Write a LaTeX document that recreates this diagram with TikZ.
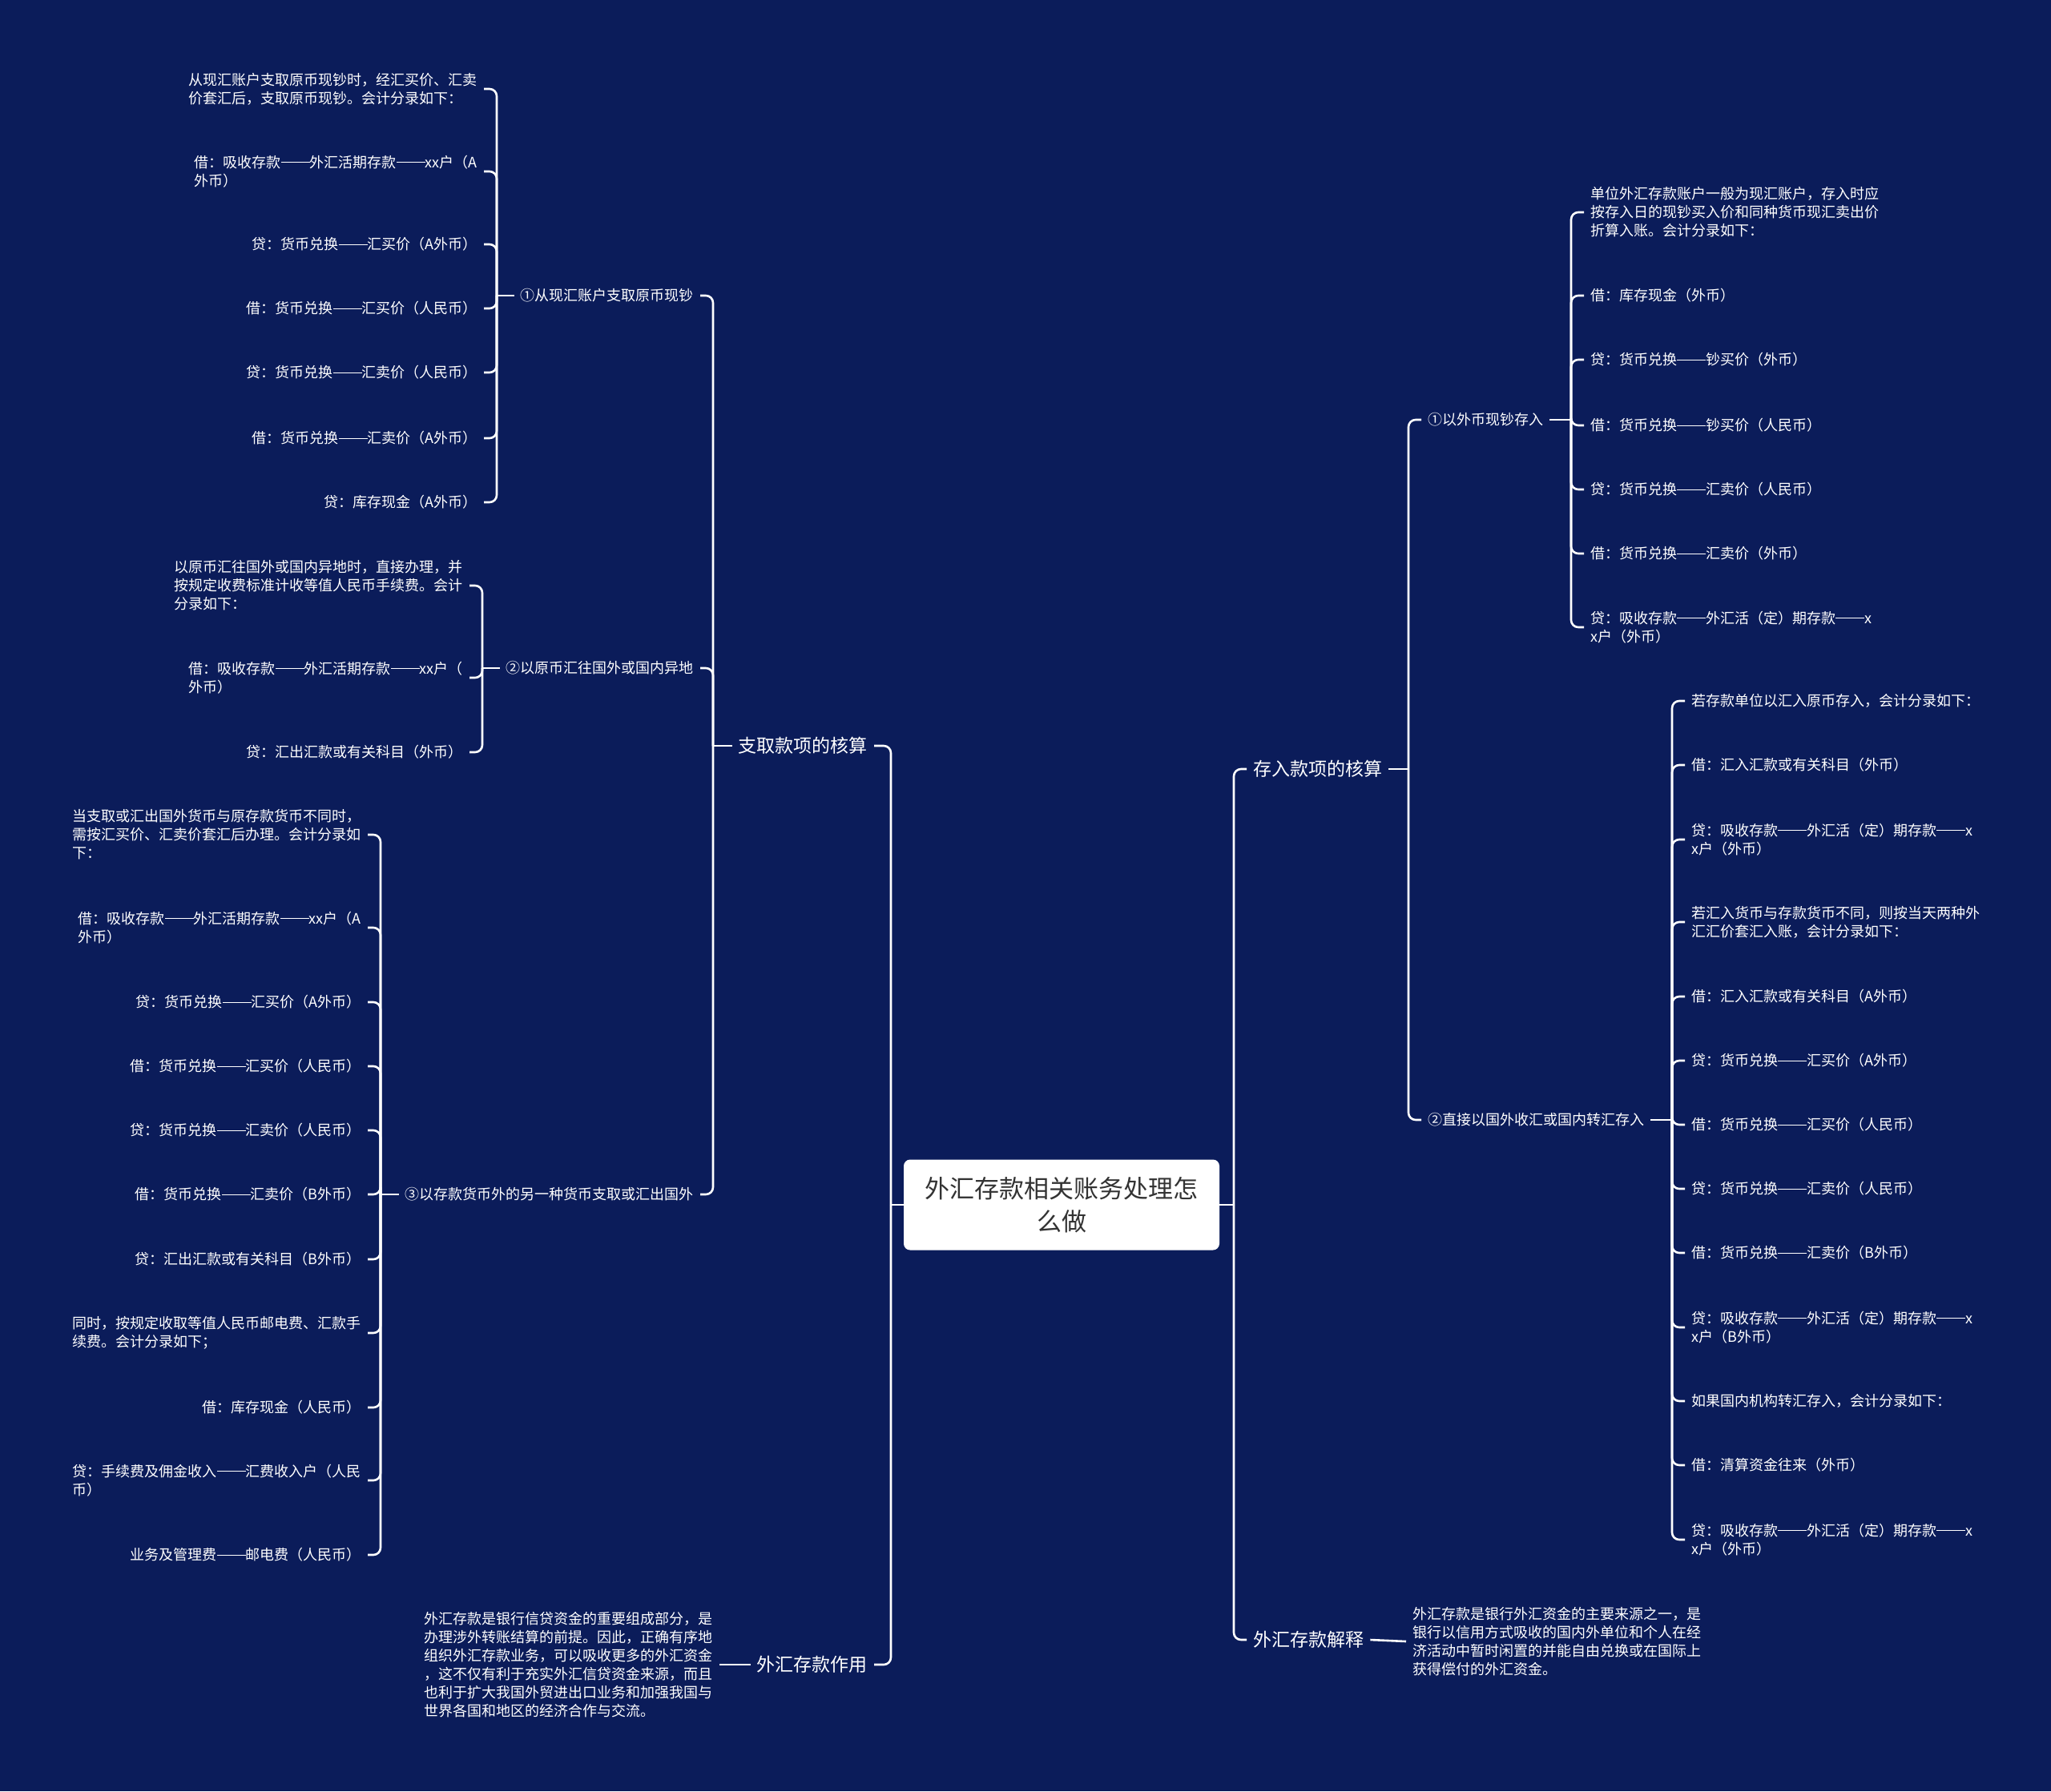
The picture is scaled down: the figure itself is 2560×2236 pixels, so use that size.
\documentclass[tikz,border=0pt]{standalone}
\usepackage{fontspec}
\setmainfont{Noto Sans CJK SC}
\usepackage{tikz}
\definecolor{BG}{HTML}{0B1C5A}
\definecolor{INK}{HTML}{333333}
\definecolor{WIRE}{HTML}{FFFFFF}
\newcommand\lng{\rule[0.33em]{2em}{0.055em}}

\begin{document}
\begin{tikzpicture}[x=1pt,y=-1pt]
\tikzset{wire/.style={WIRE,line width=2.6pt,rounded corners=9pt},
 lf/.style={text=white,font=\fontsize{18}{23}\selectfont,inner xsep=8pt,inner ysep=2pt,align=left},
 hd/.style={text=white,font=\fontsize{23}{28}\selectfont,inner xsep=8pt,inner ysep=2pt},
 rootbox/.style={fill=white,rounded corners=8pt,text=INK,font=\fontsize{31}{41}\selectfont,align=center,minimum width=394pt,minimum height=113pt}}
\fill[BG] (0,0) rectangle (2560,2236);
% root
\node[rootbox] (root) at (1325,1504) {外汇存款相关账务处理怎\\么做};
\coordinate (tL) at (1112,1504); \coordinate (tR) at (1540,1504);
% left half
\node[hd,anchor=east] (zq) at (1091,931) {支取款项的核算};
\node[hd,anchor=east] (zy) at (1091,2078) {外汇存款作用};
\draw[wire] (root.west) -- (tL); \draw[wire] (tL) |- (zq.east); \draw[wire] (tL) |- (zy.east);
\coordinate (tZ) at (890,931);
\node[lf,anchor=east] (z1) at (874,369) {①从现汇账户支取原币现钞};
\node[lf,anchor=east] (z2) at (874,834) {②以原币汇往国外或国内异地};
\node[lf,anchor=east] (z3) at (874,1491) {③以存款货币外的另一种货币支取或汇出国外};
\draw[wire] (zq.west) -- (tZ); \draw[wire] (tZ) |- (z1.east); \draw[wire] (tZ) |- (z2.east); \draw[wire] (tZ) |- (z3.east);
\coordinate (t1) at (620,369);
\node[lf,anchor=east] (z1a) at (604,111) {从现汇账户支取原币现钞时，经汇买价、汇卖\\价套汇后，支取原币现钞。会计分录如下：};
\node[lf,anchor=east] (z1b) at (604,214) {借：吸收存款\lng{}外汇活期存款\lng{}xx户（A\\外币）};
\node[lf,anchor=east] (z1c) at (604,305) {贷：货币兑换\lng{}汇买价（A外币）};
\node[lf,anchor=east] (z1d) at (604,385) {借：货币兑换\lng{}汇买价（人民币）};
\node[lf,anchor=east] (z1e) at (604,465) {贷：货币兑换\lng{}汇卖价（人民币）};
\node[lf,anchor=east] (z1f) at (604,547) {借：货币兑换\lng{}汇卖价（A外币）};
\node[lf,anchor=east] (z1g) at (604,627) {贷：库存现金（A外币）};
\draw[wire] (z1.west) -- (t1);
\draw[wire] (t1) |- (z1a.east); \draw[wire] (t1) |- (z1b.east); \draw[wire] (t1) |- (z1c.east); \draw[wire] (t1) |- (z1d.east);
\draw[wire] (t1) |- (z1e.east); \draw[wire] (t1) |- (z1f.east); \draw[wire] (t1) |- (z1g.east);
\coordinate (t2) at (602,834);
\node[lf,anchor=east] (z2a) at (586,731) {以原币汇往国外或国内异地时，直接办理，并\\按规定收费标准计收等值人民币手续费。会计\\分录如下：};
\node[lf,anchor=east] (z2b) at (586,846) {借：吸收存款\lng{}外汇活期存款\lng{}xx户（\\外币）};
\node[lf,anchor=east] (z2c) at (586,939) {贷：汇出汇款或有关科目（外币）};
\draw[wire] (z2.west) -- (t2);
\draw[wire] (t2) |- (z2a.east); \draw[wire] (t2) |- (z2b.east); \draw[wire] (t2) |- (z2c.east);
\coordinate (t3) at (475,1491);
\node[lf,anchor=east] (z3a) at (459,1042) {当支取或汇出国外货币与原存款货币不同时，\\需按汇买价、汇卖价套汇后办理。会计分录如\\下：};
\node[lf,anchor=east] (z3b) at (459,1158) {借：吸收存款\lng{}外汇活期存款\lng{}xx户（A\\外币）};
\node[lf,anchor=east] (z3c) at (459,1251) {贷：货币兑换\lng{}汇买价（A外币）};
\node[lf,anchor=east] (z3d) at (459,1331) {借：货币兑换\lng{}汇买价（人民币）};
\node[lf,anchor=east] (z3e) at (459,1411) {贷：货币兑换\lng{}汇卖价（人民币）};
\node[lf,anchor=east] (z3f) at (459,1491) {借：货币兑换\lng{}汇卖价（B外币）};
\node[lf,anchor=east] (z3g) at (459,1572) {贷：汇出汇款或有关科目（B外币）};
\node[lf,anchor=east] (z3h) at (459,1664) {同时，按规定收取等值人民币邮电费、汇款手\\续费。会计分录如下；};
\node[lf,anchor=east] (z3i) at (459,1757) {借：库存现金（人民币）};
\node[lf,anchor=east] (z3j) at (459,1848) {贷：手续费及佣金收入\lng{}汇费收入户（人民\\币）};
\node[lf,anchor=east] (z3k) at (459,1941) {业务及管理费\lng{}邮电费（人民币）};
\draw[wire] (z3.west) -- (t3);
\draw[wire] (t3) |- (z3a.east); \draw[wire] (t3) |- (z3b.east); \draw[wire] (t3) |- (z3c.east); \draw[wire] (t3) |- (z3d.east);
\draw[wire] (t3) |- (z3e.east); \draw[wire] (t3) |- (z3f.east); \draw[wire] (t3) |- (z3g.east); \draw[wire] (t3) |- (z3h.east);
\draw[wire] (t3) |- (z3i.east); \draw[wire] (t3) |- (z3j.east); \draw[wire] (t3) |- (z3k.east);
\node[lf,anchor=east] (p1) at (898,2078) {外汇存款是银行信贷资金的重要组成部分，是\\办理涉外转账结算的前提。因此，正确有序地\\组织外汇存款业务，可以吸收更多的外汇资金\\，这不仅有利于充实外汇信贷资金来源，而且\\也利于扩大我国外贸进出口业务和加强我国与\\世界各国和地区的经济合作与交流。};
\draw[wire] (zy.west) -- (p1.east);
% right half
\node[hd,anchor=west] (cr) at (1556,960) {存入款项的核算};
\node[hd,anchor=west] (js) at (1556,2047) {外汇存款解释};
\draw[wire] (root.east) -- (tR); \draw[wire] (tR) |- (cr.west); \draw[wire] (tR) |- (js.west);
\coordinate (tC) at (1758,960);
\node[lf,anchor=west] (c1) at (1774,524) {①以外币现钞存入};
\node[lf,anchor=west] (c2) at (1774,1398) {②直接以国外收汇或国内转汇存入};
\draw[wire] (cr.east) -- (tC); \draw[wire] (tC) |- (c1.west); \draw[wire] (tC) |- (c2.west);
\coordinate (t4) at (1961,524);
\node[lf,anchor=west] (c1a) at (1977,265) {单位外汇存款账户一般为现汇账户，存入时应\\按存入日的现钞买入价和同种货币现汇卖出价\\折算入账。会计分录如下：};
\node[lf,anchor=west] (c1b) at (1977,369) {借：库存现金（外币）};
\node[lf,anchor=west] (c1c) at (1977,449) {贷：货币兑换\lng{}钞买价（外币）};
\node[lf,anchor=west] (c1d) at (1977,531) {借：货币兑换\lng{}钞买价（人民币）};
\node[lf,anchor=west] (c1e) at (1977,611) {贷：货币兑换\lng{}汇卖价（人民币）};
\node[lf,anchor=west] (c1f) at (1977,691) {借：货币兑换\lng{}汇卖价（外币）};
\node[lf,anchor=west] (c1g) at (1977,783) {贷：吸收存款\lng{}外汇活（定）期存款\lng{}x\\x户（外币）};
\draw[wire] (c1.east) -- (t4);
\draw[wire] (t4) |- (c1a.west); \draw[wire] (t4) |- (c1b.west); \draw[wire] (t4) |- (c1c.west); \draw[wire] (t4) |- (c1d.west);
\draw[wire] (t4) |- (c1e.west); \draw[wire] (t4) |- (c1f.west); \draw[wire] (t4) |- (c1g.west);
\coordinate (t5) at (2087,1398);
\node[lf,anchor=west] (c2a) at (2103,875) {若存款单位以汇入原币存入，会计分录如下：};
\node[lf,anchor=west] (c2b) at (2103,955) {借：汇入汇款或有关科目（外币）};
\node[lf,anchor=west] (c2c) at (2103,1048) {贷：吸收存款\lng{}外汇活（定）期存款\lng{}x\\x户（外币）};
\node[lf,anchor=west] (c2d) at (2103,1151) {若汇入货币与存款货币不同，则按当天两种外\\汇汇价套汇入账，会计分录如下：};
\node[lf,anchor=west] (c2e) at (2103,1244) {借：汇入汇款或有关科目（A外币）};
\node[lf,anchor=west] (c2f) at (2103,1324) {贷：货币兑换\lng{}汇买价（A外币）};
\node[lf,anchor=west] (c2g) at (2103,1404) {借：货币兑换\lng{}汇买价（人民币）};
\node[lf,anchor=west] (c2h) at (2103,1484) {贷：货币兑换\lng{}汇卖价（人民币）};
\node[lf,anchor=west] (c2i) at (2103,1564) {借：货币兑换\lng{}汇卖价（B外币）};
\node[lf,anchor=west] (c2j) at (2103,1657) {贷：吸收存款\lng{}外汇活（定）期存款\lng{}x\\x户（B外币）};
\node[lf,anchor=west] (c2k) at (2103,1749) {如果国内机构转汇存入，会计分录如下：};
\node[lf,anchor=west] (c2l) at (2103,1829) {借：清算资金往来（外币）};
\node[lf,anchor=west] (c2m) at (2103,1922) {贷：吸收存款\lng{}外汇活（定）期存款\lng{}x\\x户（外币）};
\draw[wire] (c2.east) -- (t5);
\draw[wire] (t5) |- (c2a.west); \draw[wire] (t5) |- (c2b.west); \draw[wire] (t5) |- (c2c.west); \draw[wire] (t5) |- (c2d.west);
\draw[wire] (t5) |- (c2e.west); \draw[wire] (t5) |- (c2f.west); \draw[wire] (t5) |- (c2g.west); \draw[wire] (t5) |- (c2h.west);
\draw[wire] (t5) |- (c2i.west); \draw[wire] (t5) |- (c2j.west); \draw[wire] (t5) |- (c2k.west); \draw[wire] (t5) |- (c2l.west);
\draw[wire] (t5) |- (c2m.west);
\node[lf,anchor=west] (p2) at (1755,2049) {外汇存款是银行外汇资金的主要来源之一，是\\银行以信用方式吸收的国内外单位和个人在经\\济活动中暂时闲置的并能自由兑换或在国际上\\获得偿付的外汇资金。};
\draw[wire] (js.east) -- (p2.west);
\end{tikzpicture}
\end{document}
